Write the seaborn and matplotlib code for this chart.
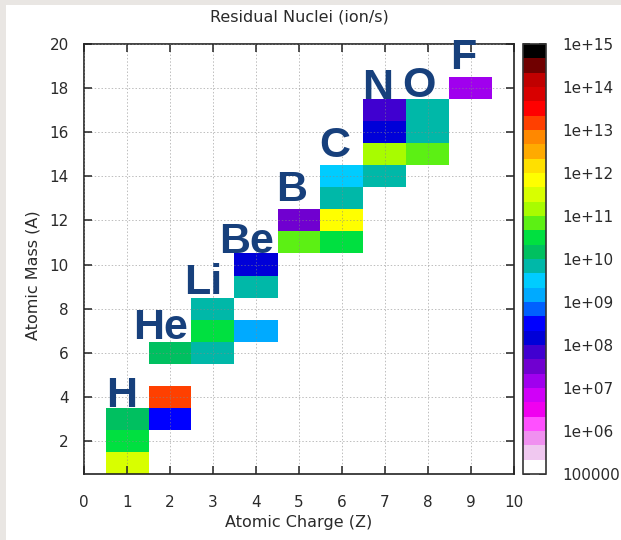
import numpy as np
import pandas as pd
import matplotlib
matplotlib.use("Agg")
import matplotlib.pyplot as plt
from matplotlib.colors import ListedColormap
from matplotlib.patches import Rectangle
import seaborn as sns

# ---------------- data ----------------
Z = [1, 1, 1, 2, 2, 2, 3, 3, 3, 4, 4, 4, 5, 5, 6, 6, 6, 6, 7, 7, 7, 7, 8, 8, 8, 9]
A = [1, 2, 3, 3, 4, 6, 6, 7, 8, 7, 9, 10, 11, 12, 11, 12, 13, 14, 14, 15, 16, 17, 15, 16, 17, 18]
rate = [3.2e11, 3.2e10, 1.5e10, 3.2e8, 1.5e13, 1.5e10, 6.8e9, 3.2e10, 6.8e9,
        1.5e9, 6.8e9, 1.5e8, 6.8e10, 3.2e7, 3.2e10, 6.8e11, 6.8e9, 3.2e9,
        6.8e9, 1.5e11, 1.5e8, 6.8e7, 6.8e10, 6.8e9, 6.8e9, 1.5e7]

elements = ["H", "He", "Li", "Be", "B", "C", "N", "O", "F"]
cbar_exponents = list(range(5, 16))
cbar_labels = ["100000"] + [f"1e+{e:02d}" for e in range(6, 16)]
x_ticks = list(range(0, 11))
y_ticks = list(range(2, 21, 2))

palette = ['#ffffff', '#f0c8f0', '#f090f0', '#ff50ff', '#f000f0', '#d000f8',
           '#a000ee', '#7000d0', '#4000d0', '#0000d8', '#0000ff', '#0060ff',
           '#00aaff', '#00ccff', '#00b8a8', '#00c060', '#00e040', '#5cf014',
           '#a8fc00', '#d8ff00', '#ffff00', '#ffe000', '#ffaa00', '#ff8800',
           '#ff4000', '#ff0000', '#d80000', '#c00000', '#700000', '#000000']

# label anchor (layout only)
label_pos = [(0.88, 3.55), (1.78, 6.6), (2.77, 8.68), (3.78, 10.5), (4.83, 12.86),
             (5.82, 14.86), (6.84, 17.5), (7.8, 17.6), (8.82, 18.86)]

# ---------------- figure ----------------
sns.set_style("ticks")
plt.rcParams['font.family'] = ['DejaVu Sans']
txt = '#2a2a2a'

W, H = 621, 540
fig = plt.figure(figsize=(W / 100, H / 100), dpi=100)
fig.patch.set_facecolor('#e9e6e3')
fig.patches.append(Rectangle((6 / W, 0), 1, (H - 5) / H, transform=fig.transFigure,
                             facecolor='white', edgecolor='none', zorder=-10))

ax = fig.add_axes([84 / W, 66 / H, 430 / W, 430 / H])
cax = fig.add_axes([523 / W, 66 / H, 23 / W, 430 / H])

df = pd.DataFrame({'Z': Z, 'A': A, 'log': np.log10(rate)})
grid = df.pivot(index='A', columns='Z', values='log').reindex(index=range(21), columns=range(11))

cmap = ListedColormap(palette)
sns.heatmap(grid, ax=ax, cmap=cmap, vmin=5, vmax=15, cbar_ax=cax,
            xticklabels=False, yticklabels=False)

ax.set_xlim(0.5, 10.5)
ax.set_ylim(1.0, 20.5)
ax.set_xlabel("")
ax.set_ylabel("")
ax.set_xticks([x + 0.5 for x in x_ticks])
ax.set_xticklabels([str(x) for x in x_ticks])
ax.set_yticks([y + 0.5 for y in y_ticks])
ax.set_yticklabels([str(y) for y in y_ticks])
for s in ax.spines.values():
    s.set_visible(True)
    s.set_color('#222222')
    s.set_linewidth(1.2)
ax.tick_params(axis='both', direction='in', top=True, right=True, length=6,
               width=1.1, color='#222222', labelsize=11, labelcolor=txt)
ax.tick_params(axis='x', pad=15)
ax.tick_params(axis='y', pad=11)
ax.set_axisbelow(False)
ax.grid(True, color='#888888', linestyle=(0, (1.5, 2)), linewidth=0.7, alpha=0.55)

for sym, (zx, ay) in zip(elements, label_pos):
    ax.text(zx + 0.5, ay + 0.5, sym, ha='center', va='baseline', fontsize=31,
            fontweight='bold', color='#17407c', zorder=10, clip_on=False,
            family='Liberation Sans')

# colorbar
cb = ax.collections[0].colorbar
cb.set_ticks(cbar_exponents)
cb.set_ticklabels(cbar_labels)
cb.outline.set_visible(True)
cb.outline.set_linewidth(1.2)
cb.outline.set_edgecolor('#333333')
cax.tick_params(direction='in', left=True, right=True, length=5, width=1.2,
                color='#222222', labelsize=11, labelcolor=txt, pad=12)

fig.text(299 / W, 1 - 17 / H, "Residual Nuclei (ion/s)", ha='center', va='center',
         fontsize=11.5, color=txt)
fig.text(299 / W, 17 / H, "Atomic Charge (Z)", ha='center', va='center',
         fontsize=11.5, color=txt)
fig.text(33 / W, 1 - 275 / H, "Atomic Mass (A)", ha='center', va='center',
         rotation=90, fontsize=11.5, color=txt)

fig.savefig("out.png", dpi=100, facecolor=fig.get_facecolor())
